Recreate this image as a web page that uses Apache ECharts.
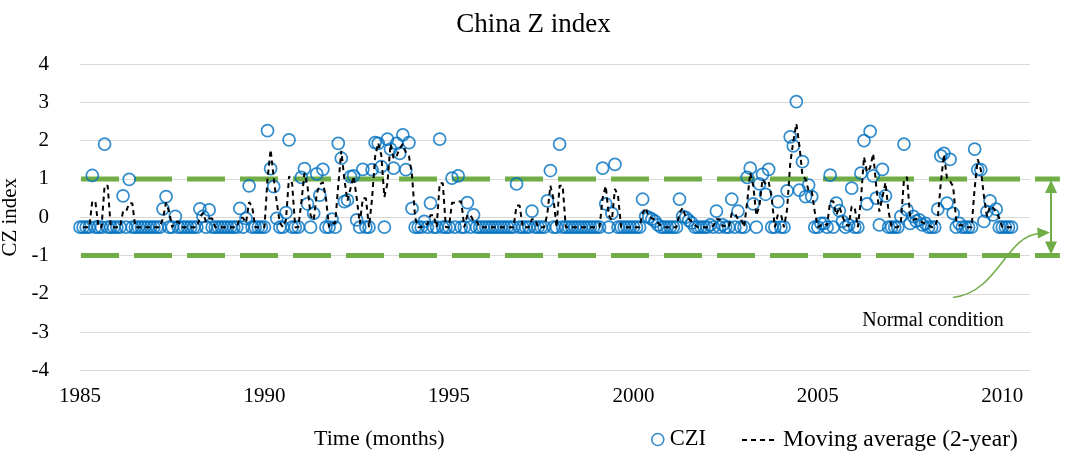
<!DOCTYPE html>
<html><head><meta charset="utf-8">
<script src="https://cdn.jsdelivr.net/npm/echarts@6/dist/echarts.min.js"></script>
<style>html,body{margin:0;padding:0;background:#fff}#c{width:1067px;height:452px}</style>
</head><body><div id="c"></div>
<script>
// ---- Data (monthly China Z index, Jan 1985 - Apr 2010) ----
const B = -0.26; // frequent near-normal value
const startYear = 1985;
const czi1985to1989 = [
  B,B,B,B,1.09,B,B,B,1.91,B,B,B,
  B,B,0.56,B,0.99,B,B,B,B,B,B,B,
  B,B,B,0.22,0.54,B,B,0.02,B,B,B,B,
  B,B,B,0.22,0.02,B,0.19,B,B,B,B,B,
  B,B,B,B,0.23,B,-0.03,0.82,B,B,B,B
];
const czi1990to1994 = [
  B,2.26,1.27,0.8,-0.03,B,B,0.12,2.02,B,B,B,
  1.04,1.27,0.35,B,0.1,1.13,0.58,1.25,B,B,-0.05,B,
  1.93,1.54,0.41,0.45,1.06,1.08,-0.07,B,1.25,B,B,1.24,
  1.95,1.93,1.32,B,2.04,1.78,1.28,1.93,1.67,2.15,1.24,1.95,
  0.23,B,B,B,-0.11,B,0.37,B,B,2.04,B,B
];
const czi1995to1999 = [
  B,1.02,B,1.08,B,B,0.38,B,0.06,B,B,B,
  B,B,B,B,B,B,B,B,B,B,0.87,B,
  B,B,B,0.16,B,B,B,B,0.43,1.22,B,B,
  1.91,B,B,B,B,B,B,B,B,B,B,B,
  B,B,1.28,0.35,B,0.1,1.38,B,B,B,B,B
];
const czi2000to2004 = [
  B,B,B,0.47,0.02,0.0,-0.05,-0.1,-0.2,B,B,B,
  B,B,B,0.47,0.02,0.0,-0.08,-0.15,B,B,B,B,
  B,-0.2,B,0.16,B,-0.2,B,B,0.47,B,0.16,B,
  B,1.04,1.28,0.35,B,0.87,1.12,0.6,1.25,B,B,0.41,
  B,B,0.69,2.1,1.86,3.02,0.71,1.45,0.54,0.84,0.54,B
];
const czi2005to2010 = [
  B,-0.16,-0.16,B,1.1,B,0.37,0.17,-0.11,B,-0.2,0.76,
  B,B,1.15,2.0,0.35,2.24,1.08,0.5,-0.2,1.25,0.56,B,
  B,B,B,0.02,1.91,0.19,-0.16,0.02,-0.1,-0.07,-0.2,-0.16,
  B,B,B,0.21,1.6,1.67,0.37,1.51,0.1,B,-0.16,B,
  B,B,B,1.78,1.24,1.24,-0.11,0.15,0.43,0.06,0.21,B,
  B,B,B,B
];
const xTickLabels = [1985, 1990, 1995, 2000, 2005, 2010];
const yTickLabels = [-4, -3, -2, -1, 0, 1, 2, 3, 4];
const normalUpper = 1;
const normalLower = -1;
const maPeriod = 2;

// ---- Build series ----
const czi = [].concat(czi1985to1989, czi1990to1994, czi1995to1999, czi2000to2004, czi2005to2010);
const cziPoints = czi.map((v, i) => [startYear + i / 12, v]);
const maPoints = [];
for (let i = maPeriod - 1; i < czi.length; i++) {
  let s = 0;
  for (let k = 0; k < maPeriod; k++) s += czi[i - k];
  maPoints.push([startYear + i / 12, +(s / maPeriod).toFixed(3)]);
}

const FONT = "'Liberation Serif', 'Times New Roman', serif";
const GREEN = '#70AD47';
const BLUE = '#0070C0';
const xMin = 1985, xMax = 2010.75, lineEnd = 2011.56, arrowYear = 2011.32;

const chart = echarts.init(document.getElementById('c'), null, {renderer: 'canvas'});
const option = {
  animation: false,
  backgroundColor: '#fff',
  title: [
    {text: 'China Z index', left: 'center', top: 6,
     textStyle: {fontFamily: FONT, fontSize: 27, fontWeight: 'normal', color: '#000'}},
    {text: 'Time (months)', left: 309, top: 423,
     textStyle: {fontFamily: FONT, fontSize: 22, fontWeight: 'normal', color: '#000'}}
  ],
  grid: {left: 80, right: 37, top: 64, bottom: 81.5, containLabel: false, outerBoundsMode: 'none'},
  xAxis: {
    type: 'value', min: xMin, max: xMax, interval: 5,
    axisLine: {show: false}, axisTick: {show: false}, splitLine: {show: false},
    axisLabel: {fontFamily: FONT, fontSize: 21, color: '#000', margin: 15,
      showMaxLabel: false,
      formatter: v => xTickLabels.indexOf(Math.round(v)) >= 0 && Math.abs(v - Math.round(v)) < 1e-6 ? String(Math.round(v)) : ''}
  },
  yAxis: {
    type: 'value', min: yTickLabels[0], max: yTickLabels[yTickLabels.length - 1], interval: 1,
    name: 'CZ index', nameLocation: 'middle', nameGap: 37, nameRotate: 90,
    nameTextStyle: {fontFamily: FONT, fontSize: 21, color: '#000'},
    axisLine: {show: false}, axisTick: {show: false},
    splitLine: {lineStyle: {color: '#D9D9D9', width: 1}},
    axisLabel: {fontFamily: FONT, fontSize: 21, color: '#000', margin: 31}
  },
  legend: [
    {data: ['CZI'], left: 646, top: 423, itemWidth: 14, itemHeight: 12, itemGap: 6,
     itemStyle: {color: 'rgba(0,0,0,0)', borderColor: BLUE, borderWidth: 1.6},
     textStyle: {fontFamily: FONT, fontSize: 22.5, color: '#000'}},
    {data: ['Moving average (2-year)'], left: 736, top: 423, itemWidth: 36, itemHeight: 14,
     itemStyle: {opacity: 0},
     lineStyle: {color: '#000', width: 2, type: [5, 4]},
     textStyle: {fontFamily: FONT, fontSize: 23.5, color: '#000'}}
  ],
  series: [
    {name: 'CZI', type: 'scatter', data: cziPoints, symbol: 'circle', symbolSize: 12, z: 3,
     itemStyle: {color: 'rgba(0,0,0,0)', borderColor: BLUE, borderWidth: 1.75}},
    {name: 'Moving average (2-year)', type: 'line', data: maPoints, symbol: 'none', showSymbol: false, z: 4,
     lineStyle: {color: '#000', width: 2, type: [5, 4]}}
  ]
};
chart.setOption(option);

// ---- Annotation: normal-condition bands and arrow (positions from the axes) ----
const px = (x, y) => chart.convertToPixel({gridIndex: 0}, [x, y]);
const u0 = px(xMin, normalUpper), u1 = px(lineEnd, normalUpper);
const l0 = px(xMin, normalLower), l1 = px(lineEnd, normalLower);
const pU = px(arrowYear, normalUpper);
const pL = px(arrowYear, normalLower);
const ax = pU[0], yU = pU[1], yL = pL[1];
const tipY = yL - 23;
const dashStyle = {stroke: GREEN, lineWidth: 5, lineDash: [38, 15]};
chart.setOption({
  graphic: [
    {type: 'line', shape: {x1: u0[0] + 1, y1: u0[1], x2: u1[0], y2: u1[1]}, style: dashStyle, z: 1, silent: true},
    {type: 'line', shape: {x1: l0[0] + 1, y1: l0[1], x2: l1[0], y2: l1[1]}, style: dashStyle, z: 1, silent: true},
    {type: 'line', shape: {x1: ax, y1: yU + 10, x2: ax, y2: yL - 10}, style: {stroke: GREEN, lineWidth: 2}, z: 10},
    {type: 'polygon', shape: {points: [[ax, yU + 1], [ax - 6, yU + 14], [ax + 6, yU + 14]]}, style: {fill: GREEN}, z: 10},
    {type: 'polygon', shape: {points: [[ax, yL - 1], [ax - 6, yL - 14], [ax + 6, yL - 14]]}, style: {fill: GREEN}, z: 10},
    {type: 'bezierCurve', shape: {x1: ax - 98, y1: yL + 42, cpx1: ax - 52, cpy1: yL + 36, cpx2: ax - 46, cpy2: tipY + 4, x2: ax - 12, y2: tipY + 1},
     style: {stroke: GREEN, lineWidth: 1.5, fill: null}, z: 10},
    {type: 'polygon', shape: {points: [[ax - 1, tipY], [ax - 14, tipY - 5], [ax - 13, tipY + 6]]}, style: {fill: GREEN}, z: 10},
    {type: 'text', x: ax - 118, y: yL + 65,
     style: {text: 'Normal condition', font: "20px 'Liberation Serif', 'Times New Roman', serif", fill: '#000', align: 'center', verticalAlign: 'middle'}, z: 10}
  ]
});
</script>
</body></html>
